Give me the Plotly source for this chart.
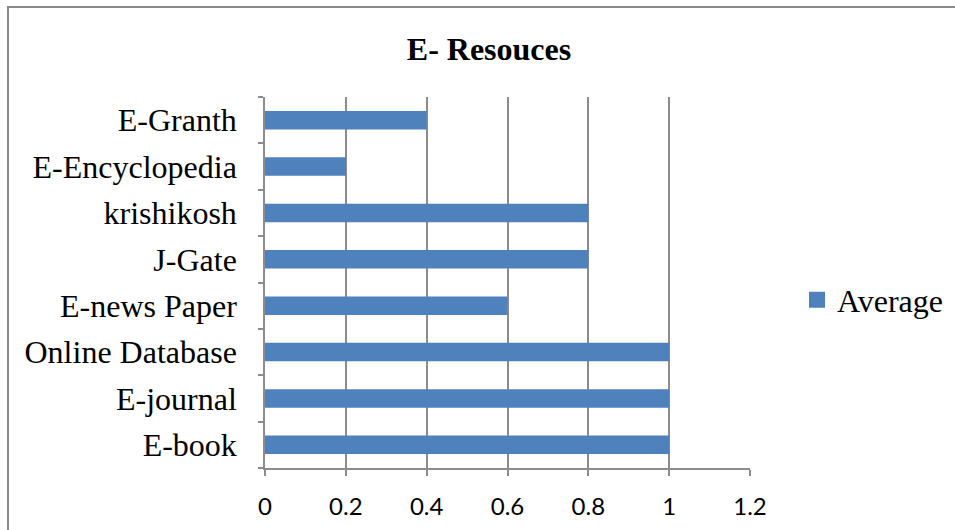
import plotly.graph_objects as go

categories = ["E-book", "E-journal", "Online Database", "E-news Paper",
              "J-Gate", "krishikosh", "E-Encyclopedia", "E-Granth"]
average = [1, 1, 1, 0.6, 0.8, 0.8, 0.2, 0.4]
x_ticks = [0, 0.2, 0.4, 0.6, 0.8, 1, 1.2]
x_ticklabels = ["0", "0.2", "0.4", "0.6", "0.8", "1", "1.2"]

W, H = 955, 530
L, R, T, B = 265, 205, 97, 62
pw, ph = W - L - R, H - T - B

def px(x):
    return (x - L) / pw

def py(y):
    return (H - B - y) / ph

BAR = "#4F81BD"
GRID = "#8C8C8C"
SERIF = "Liberation Serif, Times New Roman, serif"

fig = go.Figure()
fig.add_trace(go.Bar(
    y=categories, x=average, orientation="h",
    marker=dict(color=BAR, line=dict(width=0)),
    showlegend=False, name="Average",
))
fig.add_trace(go.Scatter(
    x=[None], y=[None], mode="markers", name="Average",
    marker=dict(symbol="square", size=16, color=BAR),
))

fig.update_layout(
    width=W, height=H,
    margin=dict(l=L, r=R, t=T, b=B, autoexpand=False),
    paper_bgcolor="white", plot_bgcolor="white",
    bargap=0.6,
    title=dict(text="<b>E- Resouces</b>", x=px(489), xref="paper", xanchor="center",
               y=1 - 49 / H, yanchor="middle",
               font=dict(family=SERIF, size=32, color="black")),
    legend=dict(x=px(797), y=py(300), xanchor="left", yanchor="middle",
                font=dict(family=SERIF, size=32, color="black"),
                itemwidth=30, bgcolor="rgba(0,0,0,0)"),
    xaxis=dict(range=[0, 1.2], tickvals=x_ticks, ticktext=x_ticklabels,
               showgrid=True, gridcolor=GRID, gridwidth=1.5,
               showline=True, linecolor=GRID, linewidth=1.5,
               ticks="outside", ticklen=6, tickcolor=GRID, tickwidth=1.5,
               tickfont=dict(family="Lato, Carlito, Calibri, sans-serif", size=24, color="black"),
               ticklabelstandoff=10, zeroline=False, fixedrange=True),
    yaxis=dict(type="category", categoryorder="array", categoryarray=categories,
               showline=True, linecolor=GRID, linewidth=1.5,
               ticks="outside", ticklen=5, tickcolor=GRID, tickwidth=1.5,
               tickson="boundaries", showgrid=False,
               tickfont=dict(family=SERIF, size=32, color="black"),
               ticklabelstandoff=20, fixedrange=True),
    shapes=[
        dict(type="line", xref="paper", yref="paper",
             x0=px(7), x1=px(960), y0=py(7), y1=py(7),
             line=dict(color="#8A8A8A", width=2)),
        dict(type="line", xref="paper", yref="paper",
             x0=px(8), x1=px(8), y0=py(7), y1=py(535),
             line=dict(color="#8A8A8A", width=2)),
    ],
)

fig.write_html("out.html", config={"displayModeBar": False},
               post_script="document.body.style.margin='0';document.body.style.overflow='hidden';")
